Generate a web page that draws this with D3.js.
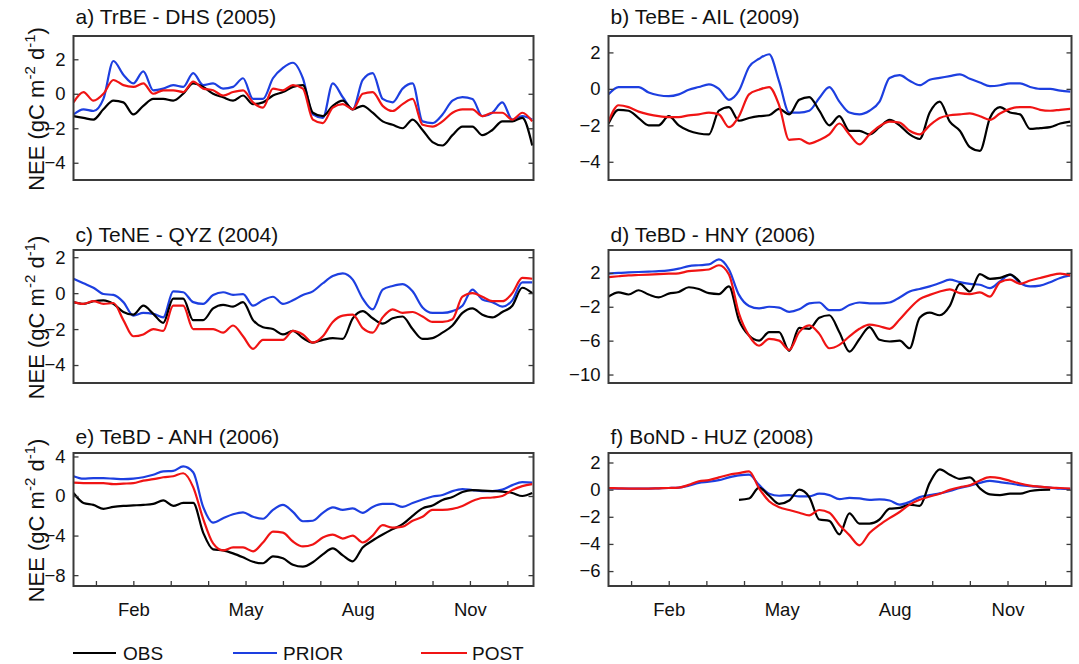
<!DOCTYPE html>
<html><head><meta charset="utf-8">
<script src="https://cdn.jsdelivr.net/npm/d3@7"></script>
<style>body{margin:0;background:#fff} svg{display:block;font-family:"Liberation Sans",Arial,sans-serif}</style>
</head><body><svg id="c" width="1079" height="664"></svg>
<script>
// ---------------- DATA ----------------
const days = d3.range(0, 369, 8); // day of year, 47 samples
const monthTicks = [18,48,78,108,138,168,198,228,258,288,318,348];
const monthLabels = ["","Feb","","","May","","","Aug","","","Nov",""];
const seriesNames = ["OBS","PRIOR","POST"];

const titles = ["a) TrBE - DHS (2005)","b) TeBE - AIL (2009)","c) TeNE - QYZ (2004)",
                "d) TeBD - HNY (2006)","e) TeBD - ANH (2006)","f) BoND - HUZ (2008)"];
const yDomains = [[-5,3.35],[-5,2.9],[-5,2.4],[-11,4.7],[-9.1,4.35],[-7.1,2.7]];
const yTicks = [[-4,-2,0,2],[-4,-2,0,2],[-4,-2,0,2],[-10,-6,-2,2],[-8,-4,0,4],[-6,-4,-2,0,2]];

const aObs   = [-1.3,-1.4,-1.5,-0.9,-0.4,-0.5,-1.2,-0.7,-0.3,-0.3,-0.4,0.0,0.6,0.4,0.0,-0.2,-0.4,-0.1,-0.6,-0.5,-0.1,0.1,0.4,0.5,-1.1,-1.3,-0.7,-0.4,-0.9,-0.7,-1.1,-1.6,-1.8,-2.0,-1.5,-2.1,-2.8,-3.0,-2.4,-1.9,-1.9,-2.4,-2.1,-1.6,-1.6,-1.4,-3.0];
const aPrior = [-1.2,-0.9,-1.0,-0.3,1.9,1.1,0.6,1.3,0.2,0.3,0.5,0.4,1.2,0.5,0.6,0.3,0.4,0.9,-0.3,-0.3,0.9,1.5,1.8,0.9,-1.2,-1.4,0.6,-0.2,-0.9,0.8,1.2,-0.3,-0.5,0.3,0.6,-1.6,-1.7,-1.2,-0.4,-0.2,-0.3,-1.3,-1.1,-0.5,-1.5,-1.3,-1.5];
const aPost  = [-0.5,0.1,-0.4,0.0,0.8,0.5,0.4,0.6,0.0,0.2,0.2,0.1,0.7,0.3,0.2,-0.1,0.1,0.2,-0.5,-0.8,0.3,0.2,0.5,0.3,-1.5,-1.7,-0.8,-0.6,-0.9,0.0,0.1,-0.7,-1.0,-0.6,-0.3,-1.8,-1.9,-1.6,-1.1,-0.9,-0.9,-1.3,-1.1,-1.1,-1.5,-1.1,-1.6];

const bObs   = [-1.9,-1.15,-1.2,-1.6,-2.0,-2.0,-1.5,-2.0,-2.3,-2.45,-2.5,-1.2,-1.0,-1.75,-1.6,-1.5,-1.45,-1.1,-1.4,-0.6,-0.45,-1.2,-2.0,-1.5,-2.3,-2.3,-2.5,-2.1,-1.7,-2.0,-2.5,-2.75,-1.3,-0.7,-1.8,-2.3,-3.2,-3.4,-1.6,-1.0,-1.3,-1.4,-2.2,-2.15,-2.1,-1.9,-1.8];
const bPrior = [-0.3,0.1,0.1,0.1,-0.2,-0.35,-0.4,-0.3,-0.05,0.1,0.25,0.0,-0.6,-0.1,1.2,1.65,1.9,0.4,-1.3,-1.3,-1.2,-0.5,0.1,-0.7,-1.3,-1.4,-1.2,-0.7,0.6,0.75,0.45,0.2,0.5,0.6,0.7,0.8,0.55,0.35,0.15,0.2,0.3,0.3,0.1,0.0,0.0,-0.1,-0.15];
const bPost  = [-1.8,-0.9,-1.0,-1.25,-1.4,-1.5,-1.55,-1.55,-1.45,-1.4,-1.3,-1.4,-2.1,-1.5,-0.3,-0.05,0.1,-0.9,-2.8,-2.75,-3.0,-2.8,-2.5,-1.9,-2.5,-3.05,-2.5,-2.05,-1.8,-1.85,-2.3,-2.5,-2.0,-1.6,-1.45,-1.4,-1.35,-1.5,-1.7,-1.35,-1.1,-1.0,-1.0,-1.15,-1.2,-1.15,-1.1];

const cObs   = [-0.5,-0.6,-0.45,-0.4,-0.6,-1.05,-1.2,-0.7,-1.15,-1.65,-0.3,-0.3,-1.5,-1.5,-0.85,-0.65,-0.75,-0.5,-1.5,-1.9,-2.0,-2.3,-2.1,-2.5,-2.75,-2.6,-2.5,-2.55,-1.4,-1.0,-1.4,-1.7,-1.4,-1.3,-2.0,-2.55,-2.5,-2.2,-1.8,-1.1,-0.85,-1.2,-1.35,-1.05,-0.7,0.3,0.0];
const cPrior = [0.8,0.55,0.3,-0.05,-0.1,-0.5,-1.25,-1.1,-1.15,-1.35,0.1,0.05,-0.5,-0.6,-0.1,0.05,-0.1,-0.05,-0.7,-0.4,-0.2,-0.6,-0.4,-0.1,0.1,0.55,0.95,1.1,0.75,-0.3,-0.9,0.2,0.4,0.5,0.1,-0.8,-1.1,-1.1,-1.0,-0.7,0.2,-0.35,-0.5,-0.75,-0.4,0.6,0.6];
const cPost  = [-0.5,-0.6,-0.45,-0.6,-0.55,-1.5,-2.4,-2.3,-2.0,-2.1,-0.7,-0.7,-2.0,-2.0,-2.0,-2.2,-1.8,-2.4,-3.1,-2.6,-2.6,-2.6,-2.1,-2.3,-2.75,-2.4,-1.6,-1.25,-1.2,-1.95,-2.2,-1.35,-0.9,-1.1,-1.05,-1.3,-1.6,-1.6,-1.45,-0.2,0.0,-0.2,-0.45,-0.45,0.0,0.85,0.8];

const dObs   = [-0.8,-0.3,-0.55,-0.05,-0.55,-0.9,-0.45,-0.25,0.3,0.1,-0.4,-0.5,0.4,-3.6,-5.4,-6.0,-5.0,-5.0,-7.2,-4.5,-4.6,-3.3,-3.0,-5.0,-7.3,-5.8,-4.4,-5.9,-6.1,-6.0,-6.9,-3.3,-2.7,-3.0,-1.9,0.7,-0.2,1.85,1.3,1.4,1.8,0.9,null,null,null,null,null];
const dPrior = [1.9,2.0,2.05,2.1,2.15,2.2,2.3,2.5,2.8,2.9,3.0,3.6,2.4,-0.6,-1.9,-2.2,-2.0,-2.1,-2.6,-2.3,-1.6,-1.5,-2.4,-2.4,-1.8,-1.5,-1.6,-1.6,-1.5,-0.9,-0.2,0.1,0.4,0.8,1.2,0.9,0.7,0.6,0.2,1.0,1.8,0.8,0.4,0.5,0.9,1.4,1.7];
const dPost  = [1.5,1.6,1.7,1.75,1.8,1.85,1.9,1.95,2.2,2.3,2.4,2.9,1.8,-2.8,-5.4,-6.6,-5.8,-6.0,-7.1,-5.0,-4.2,-5.2,-6.9,-6.5,-5.5,-4.6,-4.1,-4.3,-4.6,-3.5,-2.2,-1.1,-0.6,-0.2,0.05,-0.4,-0.5,-0.3,-0.8,0.9,1.2,0.7,1.1,1.4,1.7,1.9,1.7];

const eObs   = [0.3,-0.7,-0.9,-1.3,-1.1,-1.0,-0.95,-0.9,-0.8,-0.45,-1.0,-0.7,-0.7,-3.7,-5.4,-5.5,-5.8,-6.2,-6.65,-6.8,-6.1,-6.3,-6.95,-7.15,-6.7,-5.9,-5.3,-6.0,-6.6,-5.2,-4.5,-3.9,-3.35,-2.85,-2.0,-1.25,-0.95,-0.4,-0.1,0.4,0.6,0.55,0.5,0.45,0.3,0.0,0.3];
const ePrior = [2.0,1.75,1.8,1.8,1.75,1.7,1.75,1.9,2.15,2.5,2.55,3.0,2.4,-1.1,-2.7,-2.25,-1.85,-1.65,-2.1,-2.3,-1.4,-0.9,-1.6,-2.55,-2.5,-1.7,-1.15,-1.4,-1.25,-1.7,-1.1,-0.8,-0.8,-1.1,-0.7,-0.35,-0.05,0.1,0.5,0.7,0.6,0.5,0.5,0.65,1.1,1.4,1.35];
const ePost  = [1.35,1.3,1.3,1.3,1.2,1.25,1.3,1.55,1.7,1.9,2.0,2.3,0.9,-2.3,-4.8,-5.5,-5.2,-5.2,-5.6,-4.7,-3.6,-3.7,-4.6,-5.1,-4.9,-4.2,-3.9,-4.3,-4.0,-4.7,-4.0,-2.95,-3.2,-3.1,-2.5,-2.1,-1.4,-1.4,-1.3,-1.0,-0.5,-0.2,-0.15,0.0,0.6,1.0,1.2];

const fObs   = [null,null,null,null,null,null,null,null,null,null,null,null,null,-0.75,-0.65,0.15,-0.45,-1.05,-0.8,0.0,-0.55,-2.2,-2.3,-3.3,-1.75,-2.5,-2.5,-2.2,-1.4,-1.35,-1.1,-1.2,0.5,1.5,1.1,0.8,0.9,0.1,-0.35,-0.4,-0.3,-0.3,-0.1,-0.02,0.0,null,null];
const fPrior = [0.1,0.08,0.07,0.07,0.08,0.1,0.12,0.15,0.3,0.5,0.58,0.7,0.9,1.05,1.1,0.35,-0.3,-0.45,-0.4,-0.5,-0.5,-0.3,-0.4,-0.7,-0.6,-0.65,-0.75,-0.72,-0.8,-1.1,-0.9,-0.55,-0.4,-0.28,-0.1,0.12,0.3,0.5,0.65,0.55,0.45,0.33,0.25,0.2,0.15,0.07,0.05];
const fPost  = [0.12,0.1,0.08,0.08,0.08,0.1,0.12,0.15,0.35,0.62,0.7,0.9,1.1,1.22,1.35,0.1,-0.85,-1.3,-1.5,-1.7,-1.9,-1.5,-1.7,-2.6,-3.35,-4.1,-3.2,-2.6,-2.1,-1.65,-1.1,-0.75,-0.5,-0.3,-0.02,0.18,0.32,0.68,0.92,0.85,0.65,0.45,0.3,0.22,0.15,0.12,0.08];

// ---------------- LAYOUT ----------------
const W = 1079, H = 664;
const cols = [[73.5, 533.5], [608.5, 1071.5]];
const rows = [[36, 180], [250, 383], [453, 586]];
const titleGap = [12, 8, 9];
const colors = {OBS: "#000000", PRIOR: "#1d3fe0", POST: "#f01414"};
const frameColor = "#3a3a3a";
const font = '"Liberation Sans", Arial, sans-serif';

const panelSeries = [
  [aObs, aPrior, aPost], [bObs, bPrior, bPost], [cObs, cPrior, cPost],
  [dObs, dPrior, dPost], [eObs, ePrior, ePost], [fObs, fPrior, fPost]
];

const svg = d3.select("#c");
svg.append("rect").attr("width", W).attr("height", H).attr("fill", "#fff");
const defs = svg.append("defs");

panelSeries.forEach((ser, i) => {
  const col = i % 2, row = Math.floor(i / 2);
  const [x0, x1] = cols[col], [y0, y1] = rows[row];
  const x = d3.scaleLinear().domain([0, 369]).range([x0, x1]);
  const y = d3.scaleLinear().domain(yDomains[i]).range([y1, y0]);
  const g = svg.append("g");

  defs.append("clipPath").attr("id", "clip" + i)
    .append("rect").attr("x", x0).attr("y", y0).attr("width", x1 - x0).attr("height", y1 - y0);

  const line = d3.line().defined(d => d[1] !== null).curve(d3.curveMonotoneX)
    .x(d => x(d[0])).y(d => y(d[1]));
  const order = [1, 0, 2];
  const lg = g.append("g").attr("clip-path", `url(#clip${i})`);
  order.forEach(k => {
    const vals = ser[k];
    lg.append("path")
      .datum(days.map((dd, j) => [dd, vals[j]]))
      .attr("fill", "none")
      .attr("stroke", colors[seriesNames[k]])
      .attr("stroke-width", 2.2)
      .attr("stroke-linejoin", "round")
      .attr("d", line);
  });

  const yl = g.append("g").attr("transform", `translate(${x0},0)`)
    .call(d3.axisLeft(y).tickValues(yTicks[i]).tickSize(-5).tickPadding(8).tickFormat(d3.format("d")));
  yl.select(".domain").remove();
  yl.selectAll("line").attr("stroke", frameColor).attr("stroke-width", 1.3);
  yl.selectAll("text").attr("font-family", font).attr("font-size", 18.5).attr("fill", "#111");

  const yr = g.append("g").attr("transform", `translate(${x1},0)`)
    .call(d3.axisRight(y).tickValues(yTicks[i]).tickSize(-5).tickFormat(""));
  yr.select(".domain").remove();
  yr.selectAll("line").attr("stroke", frameColor).attr("stroke-width", 1.3);

  if (row === 2) {
    const xa = g.append("g").attr("transform", `translate(0,${y1})`)
      .call(d3.axisBottom(x).tickValues(monthTicks).tickSize(-5).tickPadding(17)
        .tickFormat((d, j) => monthLabels[j]));
    xa.select(".domain").remove();
    xa.selectAll("line").attr("stroke", frameColor).attr("stroke-width", 1.3);
    xa.selectAll("text").attr("font-family", font).attr("font-size", 18.5).attr("fill", "#111");
  }

  g.append("rect").attr("x", x0).attr("y", y0).attr("width", x1 - x0).attr("height", y1 - y0)
    .attr("fill", "none").attr("stroke", frameColor).attr("stroke-width", 2);

  g.append("text").attr("x", x0 + 2).attr("y", y0 - titleGap[row])
    .attr("font-family", font).attr("font-size", 21).attr("fill", "#111")
    .text(titles[i]);

  if (col === 0) {
    const cy = (y0 + y1) / 2 + 1;
    const t = g.append("text").attr("transform", `translate(44,${cy}) rotate(-90)`)
      .attr("text-anchor", "middle").attr("font-family", font).attr("font-size", 22).attr("fill", "#111");
    t.append("tspan").text("NEE (gC m");
    t.append("tspan").attr("dy", -9).attr("font-size", 15).text("-2");
    t.append("tspan").attr("dy", 9).text(" d");
    t.append("tspan").attr("dy", -9).attr("font-size", 15).text("-1");
    t.append("tspan").attr("dy", 9).text(")");
  }
});

const legendX = [[73, 116, 123], [233, 277, 283], [421, 467, 472]];
const legendY = 653;
seriesNames.forEach((name, k) => {
  const [lx0, lx1, tx] = legendX[k];
  svg.append("line").attr("x1", lx0).attr("x2", lx1).attr("y1", legendY).attr("y2", legendY)
    .attr("stroke", colors[name]).attr("stroke-width", 2);
  svg.append("text").attr("x", tx).attr("y", legendY + 7)
    .attr("font-family", font).attr("font-size", 19).attr("fill", "#111").text(name);
});
</script>
</body></html>
